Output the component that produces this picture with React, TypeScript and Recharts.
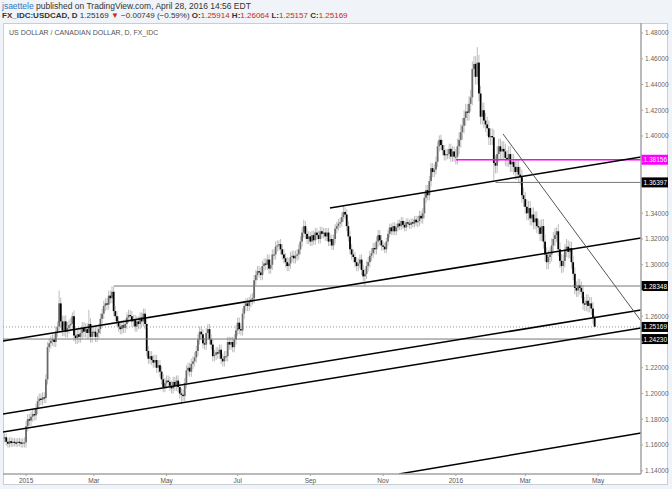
import React from 'react';
import { ComposedChart, Bar, XAxis, YAxis, ReferenceLine } from 'recharts';

// first daily bar on screen, bars run on weekdays from here
const startDate = '2014-12-16';
const firstOpen = 1.165;

// daily closes, month by month
const dec14 = [1.166, 1.1625, 1.161, 1.163, 1.1615, 1.1625, 1.162, 1.1615, 1.1625, 1.162, 1.161, 1.162];
const jan15 = [1.162, 1.1745, 1.18, 1.179, 1.182, 1.184, 1.183, 1.188, 1.194, 1.196, 1.195, 1.197, 1.1965, 1.211, 1.236, 1.239, 1.241, 1.242, 1.24, 1.248, 1.252, 1.27];
const feb15 = [1.256, 1.249, 1.256, 1.248, 1.251, 1.253, 1.254, 1.26, 1.245, 1.243, 1.246, 1.244, 1.247, 1.251, 1.248, 1.25, 1.247, 1.254, 1.244, 1.248];
const mar15 = [1.248, 1.244, 1.247, 1.25, 1.258, 1.262, 1.268, 1.27, 1.269, 1.276, 1.274, 1.279, 1.264, 1.26, 1.256, 1.252, 1.25, 1.253, 1.251, 1.254, 1.259, 1.261];
const apr15 = [1.26, 1.256, 1.257, 1.252, 1.256, 1.254, 1.259, 1.256, 1.262, 1.254, 1.233, 1.227, 1.229, 1.226, 1.224, 1.226, 1.22, 1.222, 1.217, 1.211, 1.205, 1.208];
const may15 = [1.21, 1.209, 1.206, 1.204, 1.209, 1.206, 1.21, 1.205, 1.2, 1.199, 1.198, 1.208, 1.218, 1.22, 1.217, 1.223, 1.225, 1.228, 1.233, 1.242, 1.248];
const jun15 = [1.246, 1.239, 1.238, 1.247, 1.25, 1.242, 1.238, 1.229, 1.23, 1.232, 1.231, 1.234, 1.227, 1.225, 1.229, 1.229, 1.24, 1.238, 1.24, 1.236, 1.242, 1.249];
const jul15 = [1.255, 1.25, 1.249, 1.262, 1.268, 1.27, 1.268, 1.271, 1.273, 1.274, 1.288, 1.292, 1.295, 1.294, 1.292, 1.299, 1.301, 1.3, 1.304, 1.297, 1.3, 1.308, 1.308];
const aug15 = [1.314, 1.315, 1.316, 1.312, 1.308, 1.305, 1.302, 1.299, 1.301, 1.306, 1.307, 1.305, 1.307, 1.308, 1.312, 1.318, 1.325, 1.33, 1.324, 1.32, 1.322];
const sep15 = [1.318, 1.323, 1.319, 1.325, 1.323, 1.32, 1.326, 1.324, 1.325, 1.322, 1.325, 1.318, 1.32, 1.315, 1.32, 1.328, 1.33, 1.332, 1.333, 1.337, 1.341, 1.339];
const oct15 = [1.33, 1.322, 1.312, 1.308, 1.306, 1.302, 1.299, 1.301, 1.304, 1.296, 1.291, 1.293, 1.299, 1.302, 1.307, 1.309, 1.313, 1.312, 1.318, 1.323, 1.319, 1.315];
const nov15 = [1.314, 1.312, 1.318, 1.324, 1.329, 1.326, 1.33, 1.326, 1.329, 1.332, 1.33, 1.334, 1.331, 1.329, 1.333, 1.332, 1.331, 1.333, 1.332, 1.335, 1.333];
const dec15 = [1.334, 1.338, 1.336, 1.34, 1.352, 1.358, 1.354, 1.365, 1.375, 1.372, 1.374, 1.38, 1.392, 1.397, 1.393, 1.389, 1.385, 1.386, 1.386, 1.39, 1.384, 1.388, 1.384];
const jan16 = [1.384, 1.392, 1.397, 1.403, 1.408, 1.414, 1.419, 1.418, 1.425, 1.43, 1.452, 1.456, 1.446, 1.457, 1.433, 1.415, 1.42, 1.412, 1.409, 1.406, 1.399];
const feb16 = [1.4, 1.399, 1.379, 1.377, 1.386, 1.392, 1.388, 1.39, 1.388, 1.383, 1.382, 1.386, 1.378, 1.38, 1.376, 1.372, 1.376, 1.37, 1.368, 1.354, 1.351];
const mar16 = [1.345, 1.34, 1.344, 1.336, 1.339, 1.333, 1.336, 1.33, 1.329, 1.324, 1.33, 1.318, 1.308, 1.302, 1.306, 1.308, 1.315, 1.32, 1.323, 1.326, 1.312, 1.303, 1.299];
const apr16 = [1.303, 1.311, 1.314, 1.31, 1.313, 1.302, 1.293, 1.282, 1.28, 1.284, 1.282, 1.279, 1.27, 1.269, 1.272, 1.268, 1.27, 1.266, 1.25914, 1.25169];

const monthCloses = [dec14, jan15, feb15, mar15, apr15, may15, jun15, jul15, aug15, sep15, oct15, nov15, dec15, jan16, feb16, mar16, apr16];
// typical wick beyond the body for each month
const monthWick = [0.003, 0.004, 0.0045, 0.004, 0.004, 0.004, 0.004, 0.004, 0.004, 0.0035, 0.004, 0.003, 0.004, 0.006, 0.006, 0.0055, 0.005];

// wicks that stick out further than usual
const highSpikes: [string, number][] = [
  ['2015-01-30', 1.28], ['2015-02-11', 1.263], ['2015-02-25', 1.265], ['2015-03-17', 1.2835],
  ['2015-04-13', 1.266], ['2015-08-05', 1.319], ['2015-08-26', 1.335], ['2015-09-29', 1.3457],
  ['2015-10-28', 1.327], ['2015-12-18', 1.4005], ['2016-01-20', 1.469], ['2016-03-28', 1.329],
  ['2016-04-05', 1.32], ['2016-04-28', 1.26064],
];
const lowSpikes: [string, number][] = [
  ['2014-12-18', 1.158], ['2014-12-31', 1.158], ['2015-05-14', 1.192], ['2015-10-16', 1.2832],
  ['2016-02-03', 1.366], ['2016-04-28', 1.25157],
];

const tickDates = ['2015-01-02', '2015-03-02', '2015-05-01', '2015-07-01', '2015-09-01', '2015-11-02', '2016-01-01', '2016-03-01', '2016-05-02'];
const tickLabels = ['2015', 'Mar', 'May', 'Jul', 'Sep', 'Nov', '2016', 'Mar', 'May'];
const priceTicks = [1.14, 1.16, 1.18, 1.2, 1.22, 1.24, 1.26, 1.28, 1.3, 1.32, 1.34, 1.36, 1.38, 1.4, 1.42, 1.44, 1.46, 1.48];
// price labels that sit under a level tag on the axis
const coveredTicks = [1.24, 1.28, 1.36, 1.38];

// drawn lines: [bar index, price] -> [bar index, price]
const trendLines: [number, number, number, number, string, number][] = [
  [196.8, 1.3441, 385, 1.3837, '#000', 1.5],
  [-1, 1.2408, 385, 1.3208, '#000', 1.5],
  [-1, 1.1841, 385, 1.2649, '#000', 1.5],
  [-1, 1.1701, 385, 1.2509, '#000', 1.5],
  [238.6, 1.1375, 385, 1.1693, '#000', 1.5],
  [301.5, 1.4016, 385, 1.2563, '#555', 1],
];
// horizontal levels: start date (null = whole width), price, colour, dash
const levels: [string | null, number, string, string | undefined][] = [
  ['2016-01-01', 1.38156, '#ff00ff', undefined],
  ['2016-02-04', 1.36397, '#777', undefined],
  ['2015-03-18', 1.28348, '#777', undefined],
  [null, 1.25169, '#999', '1 2'],
  [null, 1.2423, '#777', undefined],
];
const tagColors = ['#ff00ff', '#000', '#000', '#000', '#000'];

const X_MIN = -1;
const X_MAX = 385;
const Y_MIN = 1.13748;
const Y_MAX = 1.48777;

function weekdays(start: string, count: number): string[] {
  const out: string[] = [];
  const d = new Date(start + 'T00:00:00Z');
  while (out.length < count) {
    const wd = d.getUTCDay();
    if (wd !== 0 && wd !== 6) out.push(d.toISOString().slice(0, 10));
    d.setUTCDate(d.getUTCDate() + 1);
  }
  return out;
}

const dates = weekdays(startDate, 400);
const idxOf = (s: string) => dates.indexOf(s);

const bars: any[] = [];
let prev = firstOpen;
monthCloses.forEach((closes, m) => {
  closes.forEach((close) => {
    const i = bars.length;
    const open = prev;
    let high = Math.max(open, close) + monthWick[m];
    let low = Math.min(open, close) - monthWick[m];
    const hs = highSpikes.find((s) => s[0] === dates[i]);
    const ls = lowSpikes.find((s) => s[0] === dates[i]);
    if (hs) high = Math.max(hs[1], Math.max(open, close));
    if (ls) low = Math.min(ls[1], Math.min(open, close));
    bars.push({ i, open, close, high, low, range: [low, high] });
    prev = close;
  });
});

const tickIdx = tickDates.map(idxOf);

const Candle = (props: any) => {
  const { x, width, payload } = props;
  let { y, height } = props;
  if (height < 0) {
    y += height;
    height = -height;
  }
  const { open, close, high, low } = payload;
  const cx = x + width / 2;
  const toY = (v: number) => y + ((high - v) / (high - low || 1)) * height;
  const top = toY(Math.max(open, close));
  const bot = toY(Math.min(open, close));
  const up = close >= open;
  return (
    <g>
      <line x1={cx} x2={cx} y1={y} y2={y + height} stroke="#bdbdbd" strokeWidth={1} />
      <rect x={cx - 0.9} y={top} width={1.8} height={Math.max(bot - top, 1.2)} fill={up ? '#6a6a6a' : '#000'} />
    </g>
  );
};

const font = '"Liberation Sans", Arial, sans-serif';

export default function App() {
  return (
    <div style={{ position: 'relative', width: 672, height: 489, background: '#f0f3f7', fontFamily: font, overflow: 'hidden' }}>
      <style>{'body{margin:0}'}</style>
      <div style={{ position: 'absolute', left: 3, top: 23, width: 665, height: 462, background: '#fff', border: '1px solid #c9ced4', boxSizing: 'border-box' }} />
      <div style={{ position: 'absolute', left: 2, top: 1, fontSize: 8.5, color: '#333', whiteSpace: 'nowrap' }}>
        <span style={{ color: '#2f7bc0' }}>jsaettele</span> published on TradingView.com, April 28, 2016 14:56 EDT
      </div>
      <div style={{ position: 'absolute', left: 2, top: 11, fontSize: 8, color: '#333', whiteSpace: 'nowrap' }}>
        <b>FX_IDC:USDCAD, D</b> 1.25169 <span style={{ color: '#c62828' }}>▼</span> −0.00749 (−0.59%) <b>O:</b>
        <span style={{ color: '#c62828' }}>1.25914</span> <b>H:</b>
        <span style={{ color: '#c62828' }}>1.26064</span> <b>L:</b>
        <span style={{ color: '#c62828' }}>1.25157</span> <b>C:</b>
        <span style={{ color: '#c62828' }}>1.25169</span>
      </div>
      <div style={{ position: 'absolute', left: 0, top: 0 }}>
        <ComposedChart width={672} height={489} data={bars} margin={{ top: 23, right: 0, bottom: 4, left: 3 }}>
          <XAxis
            type="number"
            dataKey="i"
            domain={[X_MIN, X_MAX]}
            allowDataOverflow
            ticks={tickIdx}
            interval={0}
            tickFormatter={(v: number) => tickLabels[tickIdx.indexOf(v)] ?? ''}
            tick={{ fontSize: 6.5, fill: '#555', fontFamily: font }}
            tickSize={2}
            tickMargin={2}
            height={11}
            axisLine={{ stroke: '#a3a3a3', strokeWidth: 1.5 }}
            tickLine={{ stroke: '#a3a3a3' }}
          />
          <YAxis
            orientation="right"
            type="number"
            domain={[Y_MIN, Y_MAX]}
            allowDataOverflow
            ticks={priceTicks}
            interval={0}
            tickFormatter={(v: number) => (coveredTicks.some((c) => Math.abs(c - v) < 1e-6) ? '' : v.toFixed(5))}
            tick={{ fontSize: 6.5, fill: '#666', fontFamily: font }}
            tickSize={2}
            tickMargin={2}
            width={31}
            axisLine={{ stroke: '#a3a3a3', strokeWidth: 1.5 }}
            tickLine={{ stroke: '#a3a3a3' }}
          />
          {levels.map(([from, price, color, dash], k) => (
            <ReferenceLine
              key={'lv' + k}
              segment={[{ x: from ? idxOf(from) : X_MIN, y: price }, { x: X_MAX, y: price }]}
              stroke={color}
              strokeWidth={color === '#ff00ff' ? 1.5 : 1}
              strokeDasharray={dash}
              ifOverflow="hidden"
            />
          ))}
          {trendLines.map(([x1, y1, x2, y2, color, w], k) => (
            <ReferenceLine
              key={'tl' + k}
              segment={[{ x: x1, y: y1 }, { x: x2, y: y2 }]}
              stroke={color}
              strokeWidth={w}
              ifOverflow="hidden"
            />
          ))}
          <Bar dataKey="range" barSize={2} shape={Candle} isAnimationActive={false} />
          {levels.map(([, price], k) => (
            <ReferenceLine
              key={'tag' + k}
              y={price}
              stroke="none"
              label={(p: any) => {
                const vb = p.viewBox;
                return (
                  <g>
                    <rect x={vb.x + vb.width} y={vb.y - 5} width={27} height={10} fill={tagColors[k]} />
                    <text x={vb.x + vb.width + 2.5} y={vb.y + 2.5} fontSize={6.5} fill="#fff" fontFamily={font}>
                      {price.toFixed(5)}
                    </text>
                  </g>
                );
              }}
            />
          ))}
        </ComposedChart>
      </div>
      <div style={{ position: 'absolute', left: 9, top: 29, fontSize: 7, color: '#555', whiteSpace: 'nowrap' }}>
        US DOLLAR / CANADIAN DOLLAR, D, FX_IDC
      </div>
    </div>
  );
}
